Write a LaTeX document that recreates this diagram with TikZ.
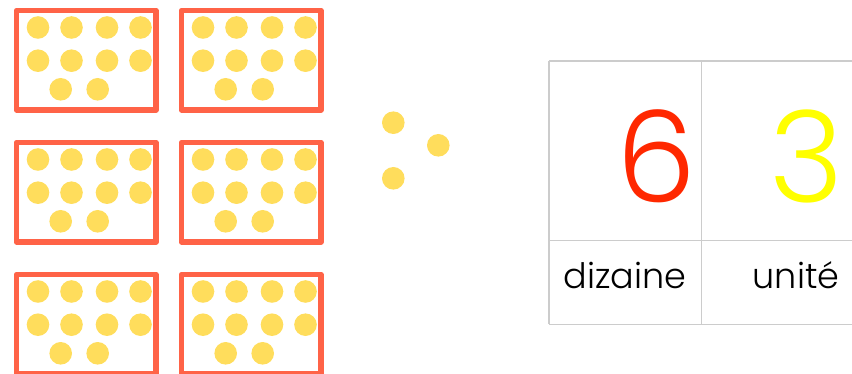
\documentclass[tikz,border=0pt]{standalone}
\usepackage{fontspec}
\setmainfont{Poppins Light}
\definecolor{boxred}{RGB}{255,99,71}
\definecolor{dotyellow}{RGB}{255,221,92}
\definecolor{tenred}{RGB}{255,40,0}
\definecolor{unityellow}{RGB}{255,255,0}
\definecolor{gridgrey}{RGB}{204,204,204}
\tikzset{
  dot/.style={fill=dotyellow},
  tenbox/.style={draw=boxred, line width=5.5},
  gridline/.style={draw=gridgrey, line width=1.2},
  digit/.style={inner sep=0, font=\fontsize{127}{127}\selectfont},
  placename/.style={anchor=base, inner sep=0, font=\fontsize{35}{35}\selectfont}
}
\begin{document}
\begin{tikzpicture}[x=1pt, y=-1pt, line join=round]
\useasboundingbox (0,0) rectangle (852,374);

% Six boîtes de dix
\foreach \col in {0,1} \foreach \row in {0,1,2} {
  \begin{scope}[shift={(165*\col,132*\row)}]
    \draw[tenbox] (16.5,10.5) rectangle (156,110);
    \foreach \x in {38,71.5,107,140.5} {
      \fill[dot] (\x,27.5) circle (11.3);
      \fill[dot] (\x,60.7) circle (11.3);
    }
    \fill[dot] (60.7,89.3) circle (11.3);
    \fill[dot] (97.7,89.3) circle (11.3);
  \end{scope}
}

% Trois unités
\fill[dot] (393.3,122.7) circle (11.3);
\fill[dot] (438.3,145.3) circle (11.3);
\fill[dot] (393.3,178.3) circle (11.3);

% Tableau
\draw[gridline] (549,61) -- (852,61);
\draw[gridline] (549,240.7) -- (852,240.7);
\draw[gridline] (549,324.3) -- (852,324.3);
\draw[gridline] (549,61) -- (549,324.3);
\draw[gridline] (701.7,61) -- (701.7,324.3);

\node[digit, text=tenred] (six) at (656.3,156) {6};
\node[digit, text=unityellow] (three) at (806.3,156) {3};
\node[placename] (dizaine) at (625,289) {dizaine};
\node[placename] (unite) at (796,289) {unité};
\end{tikzpicture}
\end{document}
